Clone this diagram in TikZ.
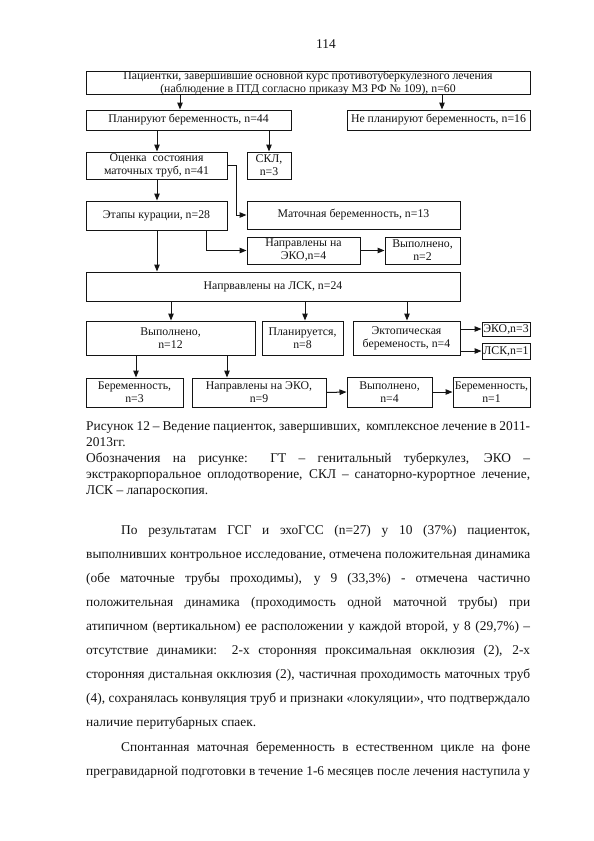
\documentclass[tikz,border=0pt]{standalone}
\usepackage{fontspec}
\setmainfont{Liberation Serif}
\usetikzlibrary{arrows.meta}
\definecolor{ink}{gray}{0.08}
\tikzset{
  box/.style={draw=ink, line width=1pt, inner sep=0pt, align=center, text=ink,
    font=\fontsize{11.8}{13}\selectfont},
  arr/.style={draw=ink, line width=1pt, -{Triangle[length=7pt,width=5.5pt]}},
  txt/.style={anchor=base west, inner sep=0pt, text=ink, font=\fontsize{13.4}{16}\selectfont},
}
\newcommand{\jl}[1]{\makebox[444pt][s]{#1}}
\newcommand{\jli}[1]{\makebox[409pt][s]{#1}}
\begin{document}
\begin{tikzpicture}[x=1pt,y=-1pt]
\useasboundingbox[fill=white] (0,0) rectangle (594,841);
\node[txt, anchor=base] (pg) at (326,48) {114};
% boxes
\node[box, minimum width=444, minimum height=22] (top) at (308,83)
  {Пациентки, завершившие основной курс противотуберкулезного лечения\\(наблюдение в ПТД согласно приказу МЗ РФ № 109), n=60};
\node[box, minimum width=205, minimum height=20] (plan) at (188.5,120) {Планируют беременность, n=44};
\node[box, minimum width=183, minimum height=20] (noplan) at (438.5,120) {Не планируют беременность, n=16};
\node[box, minimum width=141, minimum height=27] (ocenka) at (156.5,165.5) {Оценка\enspace состояния\\маточных труб, n=41};
\node[box, minimum width=44, minimum height=27] (skl) at (269,165.5) {СКЛ,\\n=3};
\node[box, minimum width=141, minimum height=29] (etapy) at (156.5,215.5) {Этапы курации, n=28};
\node[box, minimum width=213, minimum height=28] (matoch) at (353.5,215) {Маточная беременность, n=13};
\node[box, minimum width=113, minimum height=27] (eko4) at (303.5,250.5) {Направлены на\\ЭКО,n=4};
\node[box, minimum width=75, minimum height=27] (vyp2) at (422.5,250.5) {Выполнено,\\n=2};
\node[box, minimum width=374, minimum height=29] (lsk24) at (273,286.5) {Напрвавлены на ЛСК, n=24};
\node[box, minimum width=169, minimum height=34] (vyp12) at (170.5,338) {Выполнено,\\n=12};
\node[box, minimum width=81, minimum height=34] (plan8) at (302.5,338) {Планируется,\\n=8};
\node[box, minimum width=107, minimum height=34] (ekt) at (406.5,338) {Эктопическая\\беременость, n=4};
\node[box, minimum width=48, minimum height=14] (eko3) at (506,329) {ЭКО,n=3};
\node[box, minimum width=48, minimum height=16] (lsk1) at (506,351) {ЛСК,n=1};
\node[box, minimum width=97, minimum height=29] (ber3) at (134.5,392.5) {Беременность,\\n=3};
\node[box, minimum width=134, minimum height=29] (eko9) at (259,392.5) {Направлены на ЭКО,\\n=9};
\node[box, minimum width=85, minimum height=30] (vyp4) at (389.5,392) {Выполнено,\\n=4};
\node[box, minimum width=77, minimum height=30] (ber1) at (491.5,392) {Беременность,\\n=1};
% connectors
\draw[arr] (top.south -| 180,0) -- (plan.north -| 180,0);
\draw[arr] (top.south -| 442,0) -- (noplan.north -| 442,0);
\draw[arr] (plan.south -| 157,0) -- (ocenka.north -| 157,0);
\draw[arr] (plan.south -| 269,0) -- (skl.north);
\draw[arr] (ocenka.east) -- ++(9,0) |- (matoch.west);
\draw[arr] (ocenka.south -| 157,0) -- (etapy.north -| 157,0);
\draw[arr] (etapy.south -| 206,0) |- (eko4.west);
\draw[arr] (eko4.east) -- (vyp2.west);
\draw[arr] (etapy.south -| 157,0) -- (lsk24.north -| 157,0);
\draw[arr] (lsk24.south -| 171,0) -- (vyp12.north -| 171,0);
\draw[arr] (lsk24.south -| 305,0) -- (plan8.north -| 305,0);
\draw[arr] (lsk24.south -| 407,0) -- (ekt.north -| 407,0);
\draw[arr] (ekt.east |- eko3.west) -- (eko3.west);
\draw[arr] (ekt.east |- lsk1.west) -- (lsk1.west);
\draw[arr] (vyp12.south -| 136,0) -- (ber3.north -| 136,0);
\draw[arr] (vyp12.south -| 227,0) -- (eko9.north -| 227,0);
\draw[arr] (eko9.east) -- (vyp4.west);
\draw[arr] (vyp4.east) -- (ber1.west);
% caption
\node[txt] (c1) at (86,430) {\jl{Рисунок 12 – Ведение пациенток, завершивших,\ \ комплексное лечение в 2011-}};
\node[txt] (c2) at (86,446) {2013гг.};
\node[txt] (c3) at (86,462) {\jl{Обозначения на рисунке: ГТ – генитальный туберкулез, ЭКО –}};
\node[txt] (c4) at (86,478) {\jl{экстракорпоральное оплодотворение, СКЛ – санаторно-курортное лечение,}};
\node[txt] (c5) at (86,494) {ЛСК – лапароскопия.};
% body
\node[txt] (b1) at (121,534) {\jli{По результатам ГСГ и эхоГСС (n=27) у 10 (37\%) пациенток,}};
\node[txt] (b2) at (86,558) {\jl{выполнивших контрольное исследование, отмечена положительная динамика}};
\node[txt] (b3) at (86,582) {\jl{(обе маточные трубы проходимы), у 9 (33,3\%) - отмечена частично}};
\node[txt] (b4) at (86,606) {\jl{положительная динамика (проходимость одной маточной трубы) при}};
\node[txt] (b5) at (86,630) {\jl{атипичном (вертикальном) ее расположении у каждой второй, у 8 (29,7\%) –}};
\node[txt] (b6) at (86,654) {\jl{отсутствие динамики: 2-х сторонняя проксимальная окклюзия (2), 2-х}};
\node[txt] (b7) at (86,678) {\jl{сторонняя дистальная окклюзия (2), частичная проходимость маточных труб}};
\node[txt] (b8) at (86,702) {\jl{(4), сохранялась конвуляция труб и признаки «локуляции», что подтверждало}};
\node[txt] (b9) at (86,726) {наличие перитубарных спаек.};
\node[txt] (b10) at (121,751) {\jli{Спонтанная маточная беременность в естественном цикле на фоне}};
\node[txt] (b11) at (86,775) {\jl{прегравидарной подготовки в течение 1-6 месяцев после лечения наступила у}};
\end{tikzpicture}
\end{document}
